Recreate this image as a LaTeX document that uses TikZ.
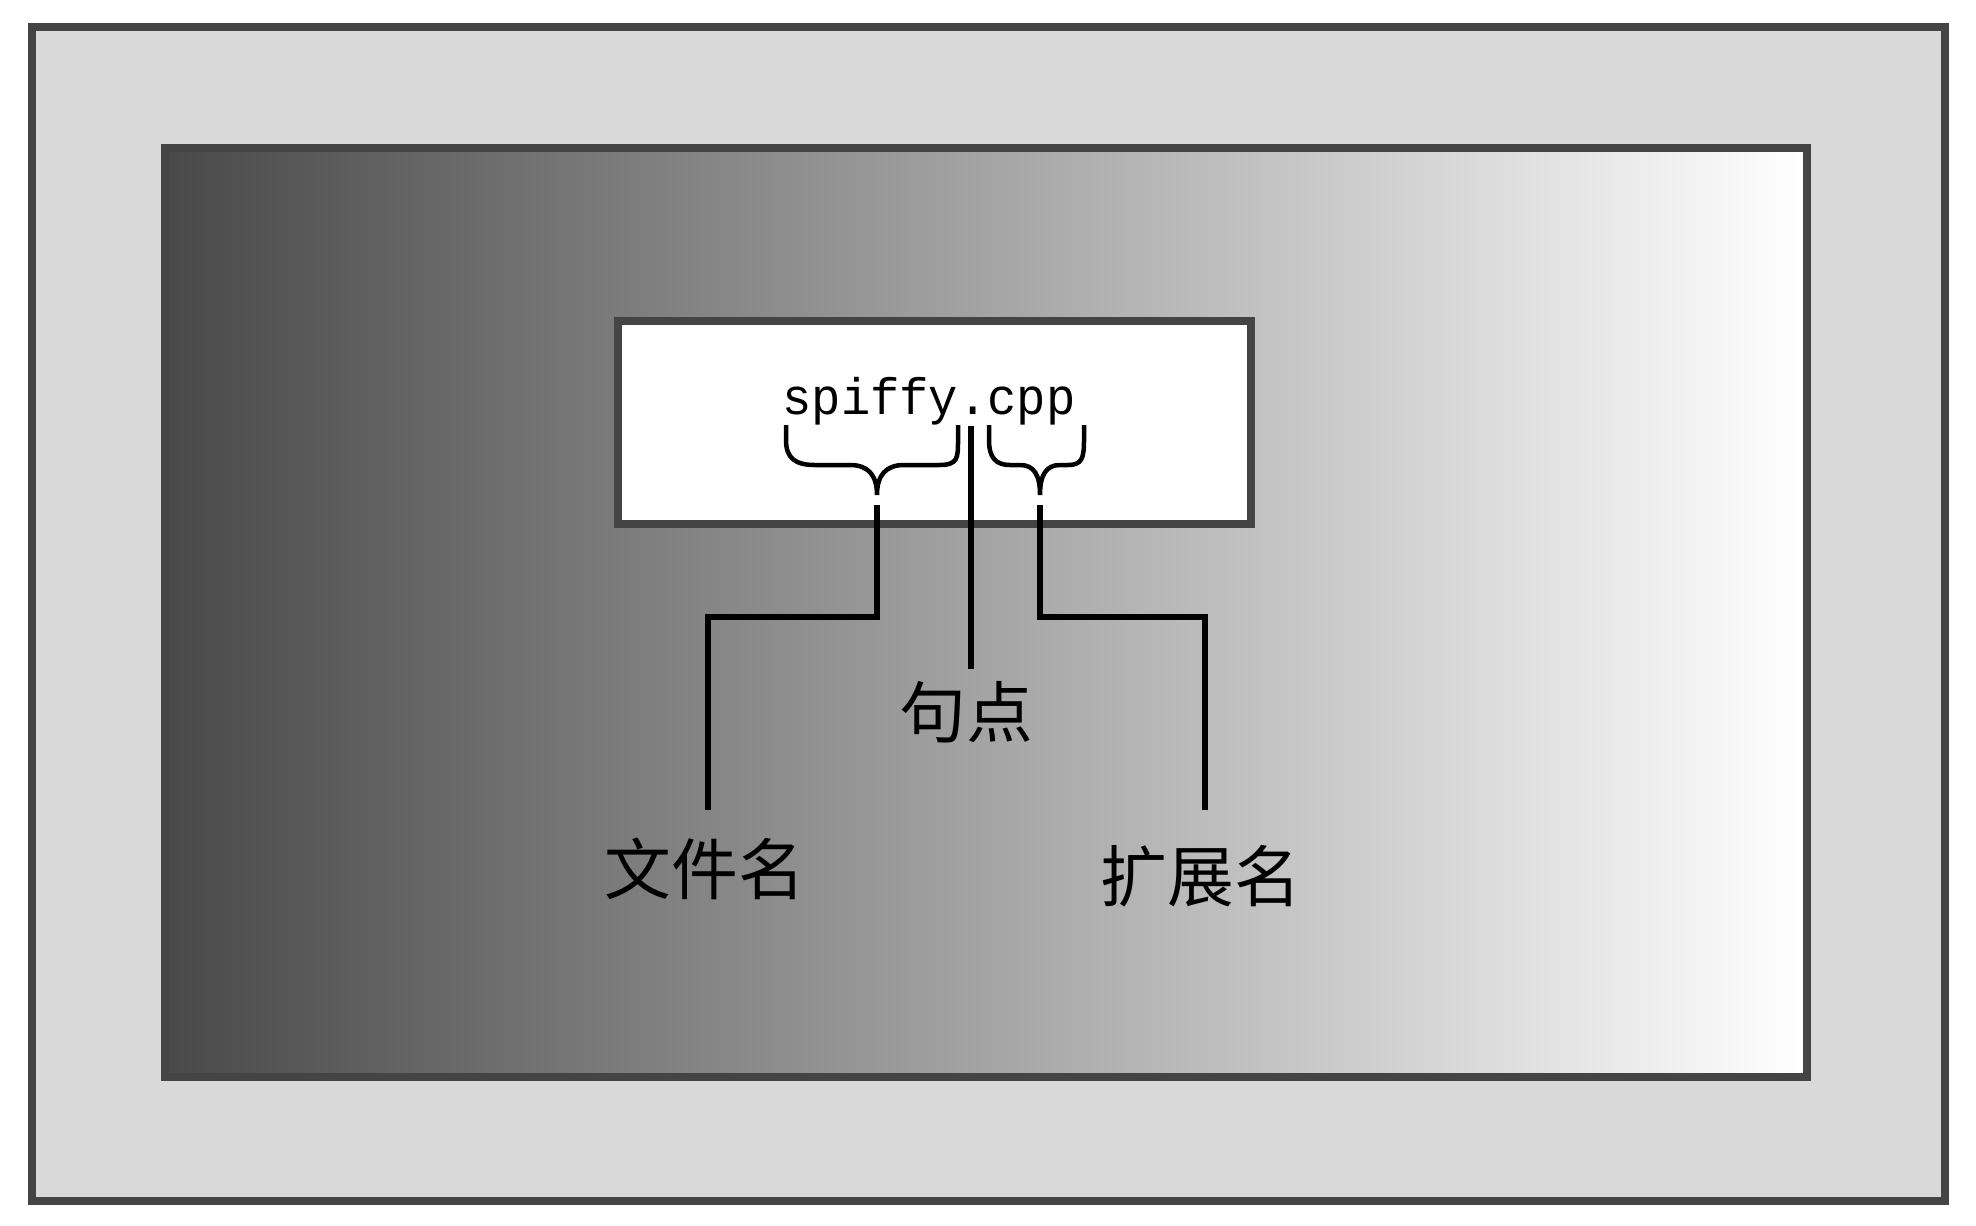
\documentclass[tikz,border=0pt]{standalone}
\usepackage{graphicx}
\usepackage{fontspec}
\newfontfamily\cjk{Noto Sans CJK SC}
\newfontfamily\monof{Liberation Mono}
\definecolor{frame}{HTML}{444444}
\definecolor{outerfill}{HTML}{D9D9D9}
\definecolor{gradleft}{HTML}{494949}
\tikzset{
  framebox/.style={draw=frame, line width=0.8mm},
  conn/.style={draw=black, line width=0.6mm},
  bracepath/.style={draw=black, line width=0.45mm, line cap=butt},
  cjklabel/.style={font=\cjk\fontsize{19pt}{19pt}\selectfont, inner sep=0pt, anchor=base},
}
\begin{document}
\begin{tikzpicture}[x=0.1mm, y=-0.1mm]
\useasboundingbox (0,0) rectangle (1976,1225);
% outer frame
\path[framebox, fill=outerfill] (32,27) rectangle (1945,1201);
% gradient panel
\shade[left color=gradleft, right color=white] (165,148) rectangle (1807,1077);
\path[framebox] (165,148) rectangle (1807,1077);
% white box
\node[framebox, fill=white, minimum width=63.3mm, minimum height=20.3mm, inner sep=0pt, outer sep=0pt, anchor=north west] (box) at (618,321) {};
% file name text
\node[font=\monof\fontsize{14.6pt}{15pt}\selectfont, inner sep=0pt, anchor=base] (fname) at (929,414) {\scalebox{0.952}[1]{spiffy.cpp}};
% braces
\draw[bracepath] (786,425) -- (786,440) .. controls (786,458) and (795,465) .. (815,465) -- (850,465) .. controls (868,465) and (877,475) .. (877,495) .. controls (877,475) and (886,465) .. (904,465) -- (939,465) .. controls (958,465) and (958,458) .. (958,440) -- (958,425);
\draw[bracepath] (989,425) -- (989,440) .. controls (989,458) and (996,465) .. (1010,465) -- (1020,465) .. controls (1034,465) and (1040,475) .. (1040,495) .. controls (1040,475) and (1046,465) .. (1060,465) -- (1068,465) .. controls (1082,465) and (1084,458) .. (1084,440) -- (1084,425);
% labels
\node[cjklabel] (period) at (966,737) {句点};
\node[cjklabel] (basename) at (705,894) {文件名};
\node[cjklabel] (extname) at (1201,901) {扩展名};
% connector coordinates
\coordinate (ltip) at (877,505);
\coordinate (lmid) at (708,617);
\coordinate (lend) at (708,810);
\coordinate (rtip) at (1040,505);
\coordinate (rmid) at (1205,617);
\coordinate (rend) at (1205,810);
\coordinate (dtop) at (971,426);
\coordinate (dend) at (971,669);
\draw[conn] (ltip) |- (lmid) -- (lend);
\draw[conn] (rtip) |- (rmid) -- (rend);
\draw[conn] (dtop) -- (dend);
\end{tikzpicture}
\end{document}
